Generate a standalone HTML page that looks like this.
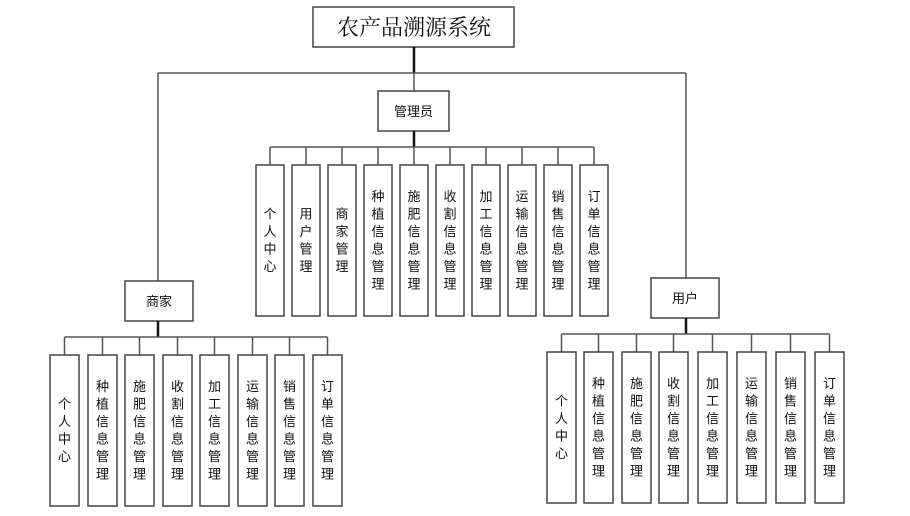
<!DOCTYPE html>
<html><head><meta charset="utf-8"><style>
html,body{margin:0;padding:0;background:#fff;width:910px;height:516px;overflow:hidden}
svg{display:block}
.b{fill:#fff;stroke:#444;stroke-width:1.5}
.l{stroke:#555;stroke-width:1.5;fill:none}
.k{stroke:#111;stroke-width:2.5;fill:none}
text{font-family:"Liberation Sans","Noto Sans CJK SC",sans-serif;font-size:13px;fill:#111}
.t{font-family:"Liberation Serif","Noto Serif CJK SC",serif;font-size:22px}
</style></head><body>
<svg id="s" width="910" height="516" xmlns="http://www.w3.org/2000/svg">
<rect class="b" x="313" y="7" width="201" height="40"/>
<text class="t" x="414" y="35" text-anchor="middle">农产品溯源系统</text>
<line class="k" x1="414" y1="47" x2="414" y2="73"/>
<line class="l" x1="158" y1="73" x2="686" y2="73"/>
<line class="l" x1="414" y1="73" x2="414" y2="91"/>
<line class="l" x1="158" y1="73" x2="158" y2="281"/>
<line class="l" x1="686" y1="73" x2="686" y2="278"/>
<rect class="b" x="378" y="91" width="71" height="40"/>
<text x="413.5" y="116" text-anchor="middle">管理员</text>
<rect class="b" x="125" y="281" width="68" height="40"/>
<text x="159" y="306" text-anchor="middle">商家</text>
<rect class="b" x="651" y="278" width="68" height="40"/>
<text x="685" y="303" text-anchor="middle">用户</text>
</svg>
<script>
var s=document.getElementById('s'),NS='http://www.w3.org/2000/svg';
function el(t,a,txt){var e=document.createElementNS(NS,t);for(var k in a)e.setAttribute(k,a[k]);if(txt)e.textContent=txt;s.appendChild(e);return e;}
function group(px,py,by,xs,w,y0,y1,labels){
 el('line',{'class':'k',x1:px,y1:py,x2:px,y2:by});
 el('line',{'class':'l',x1:xs[0]+w/2,y1:by,x2:xs[xs.length-1]+w/2,y2:by});
 for(var i=0;i<xs.length;i++){
  var cx=xs[i]+w/2;
  el('line',{'class':'l',x1:cx,y1:by,x2:cx,y2:y0});
  el('rect',{'class':'b',x:xs[i],y:y0,width:w,height:y1-y0});
  var L=labels[i],n=L.length,lh=17.5,mid=(y0+y1)/2,st=mid-(n*lh)/2+13;
  for(var j=0;j<n;j++)el('text',{x:cx,y:st+j*lh,'text-anchor':'middle'},L[j]);
 }
}
group(414,131,147,[256,292,328,364,400,436,472,508,544,580],28,165,316,
 ['个人中心','用户管理','商家管理','种植信息管理','施肥信息管理','收割信息管理','加工信息管理','运输信息管理','销售信息管理','订单信息管理']);
var L8=['个人中心','种植信息管理','施肥信息管理','收割信息管理','加工信息管理','运输信息管理','销售信息管理','订单信息管理'];
group(158,321,337,[50,88,125,163,200,238,275,313],29,355,506,L8);
group(686,318,334,[547,584,622,659,698,737,776,815],29,352,503,L8);
</script>
</body></html>
